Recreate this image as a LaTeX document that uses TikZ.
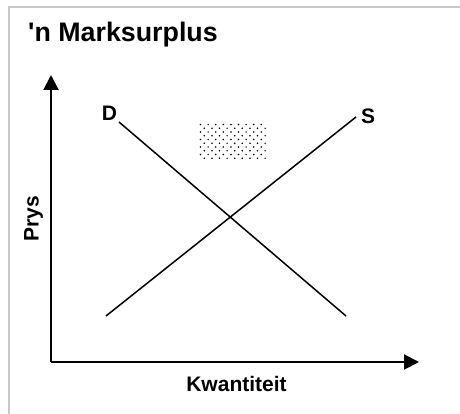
\documentclass[tikz,border=0pt]{standalone}
\usepackage{fontspec}
\setmainfont{Liberation Sans}
\newfontfamily\plainsans{Liberation Sans}
\usetikzlibrary{arrows.meta}
\begin{document}
\begin{tikzpicture}[x=1pt,y=-1pt,line cap=butt,line join=miter]
  \useasboundingbox[fill=white] (0,0) rectangle (460,414);
  \definecolor{framegray}{RGB}{200,200,200}
  % frame
  \draw[framegray,line width=2.6pt] (9,414) -- (9,7) -- (460,7);
  \node[anchor=base west,inner sep=0pt,font=\plainsans\fontsize{26.8}{30}\selectfont\bfseries] (title) at (28,42) {'n Marksurplus};
  % axes
  \coordinate (O) at (51,362);
  \coordinate (Ytop) at (51,75);
  \coordinate (Xend) at (419,362);
  \draw[-{Triangle[length=15pt,width=15pt]},line width=2pt] (O) -- (Ytop);
  \draw[-{Triangle[length=15pt,width=15pt]},line width=2pt] (O) -- (Xend);
  % curves
  \coordinate (D1) at (119,122);
  \coordinate (D2) at (346,316);
  \coordinate (S1) at (106,316);
  \coordinate (S2) at (356,117);
  \draw[line width=1.5pt] (D1) -- (D2);
  \draw[line width=1.5pt] (S1) -- (S2);
  % surplus patch
  \foreach \i in {0,...,9}{
    \foreach \j in {0,...,8}{
      \fill ({200.5+3.8*mod(\i,2)+7.6*\j},{124.5+3.75*\i}) circle[radius=0.85];
    }
  }
  \node[font=\fontsize{21}{24}\selectfont\bfseries,inner sep=0pt] (labD) at (109.5,113) {D};
  \node[font=\fontsize{21}{24}\selectfont\bfseries,inner sep=0pt] (labS) at (368,116.5) {S};
  \node[font=\fontsize{21}{24}\selectfont\bfseries,inner sep=0pt,rotate=90] (labP) at (33.5,218.5) {Prys};
  \node[font=\fontsize{21}{24}\selectfont\bfseries,inner sep=0pt] (labQ) at (236.5,384) {Kwantiteit};
\end{tikzpicture}
\end{document}
